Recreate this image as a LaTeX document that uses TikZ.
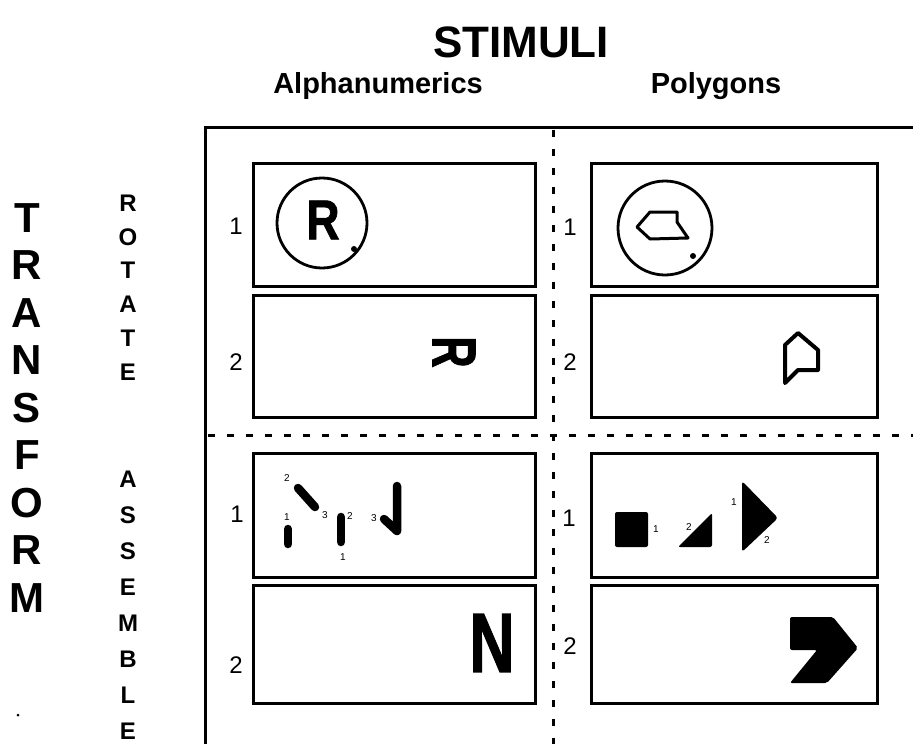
\documentclass[tikz,border=0pt]{standalone}
\usepackage{fontspec}
\setmainfont{Liberation Sans}
\newfontfamily\heavyfont[FakeBold=1.5]{Liberation Sans Bold}
\begin{document}
\begin{tikzpicture}[x=1pt,y=-1pt,
  frame/.style={line width=3pt},
  dashline/.style={line width=3pt, dash pattern=on 7pt off 12pt},
  cell/.style={draw, line width=3pt, inner sep=0pt},
  num/.style={font=\fontsize{24}{24}\selectfont, inner sep=0pt},
  tinylab/.style={font=\fontsize{10}{10}\selectfont, inner sep=0pt},
  bigletter/.style={font=\bfseries\fontsize{42}{42}\selectfont, inner sep=0pt},
  midletter/.style={font=\bfseries\fontsize{24}{24}\selectfont, inner sep=0pt},
  head/.style={font=\bfseries\fontsize{29}{29}\selectfont, inner sep=0pt},
  bar/.style={line width=8.5pt, line cap=round, line join=round},
  outline/.style={line width=4pt, line join=round},
  ring/.style={line width=2.8pt}
]
\useasboundingbox (0,0) rectangle (913,744);

% headings
\node[font=\bfseries\fontsize{44}{44}\selectfont, inner sep=0pt] (stim) at (521,42) {STIMULI};
\node[head, anchor=base] (alpha) at (378,93) {Alphanumerics};
\node[head, anchor=base] (poly) at (716,93) {Polygons};

% side labels
\foreach \l [count=\i from 0] in {T,R,A,N,S,F,O,R,M}
  \node[bigletter] (tr\i) at (27,{218+47.5*\i}) {\l};
\foreach \l [count=\i from 0] in {R,O,T,A,T,E}
  \node[midletter] (ro\i) at (128,{203+33.8*\i}) {\l};
\foreach \l [count=\i from 0] in {A,S,S,E,M,B,L,E}
  \node[midletter] (as\i) at (128,{479+36*\i}) {\l};
\fill (18,715) circle[radius=1.5pt];

% frame and dividers
\draw[frame] (913,127) -- (205,127) -- (205,744);
\draw[dashline] (553,130) -- (553,744);
\draw[dashline] (208,435) -- (913,435);

% cells
\node[cell, minimum width=282pt, minimum height=123pt] (a1) at (394,224.5) {};
\node[cell, minimum width=282pt, minimum height=122pt] (a2) at (394,356) {};
\node[cell, minimum width=282pt, minimum height=124pt] (a3) at (394,515) {};
\node[cell, minimum width=282pt, minimum height=118pt] (a4) at (394,644) {};
\node[cell, minimum width=286pt, minimum height=123pt] (p1) at (734,224.5) {};
\node[cell, minimum width=286pt, minimum height=122pt] (p2) at (734,356) {};
\node[cell, minimum width=286pt, minimum height=124pt] (p3) at (734,515) {};
\node[cell, minimum width=286pt, minimum height=118pt] (p4) at (734,644) {};

% cell numbers
\node[num] (na1) at (236,226) {1};
\node[num] (na2) at (236,362) {2};
\node[num] (na3) at (237,514) {1};
\node[num] (na4) at (236,665) {2};
\node[num] (np1) at (570,227) {1};
\node[num] (np2) at (570,362) {2};
\node[num] (np3) at (569,518) {1};
\node[num] (np4) at (570,646) {2};

% rotate, alphanumeric
\draw[ring] (322,223) circle[radius=45pt];
\node[font=\heavyfont\fontsize{56}{56}\selectfont, inner sep=0pt] (rr1) at (323,220) {\scalebox{0.82}[1]{R}};
\fill (354,249) circle[radius=3pt];
\node[font=\heavyfont\fontsize{62}{62}\selectfont, inner sep=0pt, rotate=-90] (rr2) at (454,352) {\scalebox{0.7}[1]{R}};

% rotate, polygon
\draw[ring] (665,228) circle[radius=47pt];
\draw[line width=3pt, line join=round] (637,227) -- (650,212) -- (677,212) -- (677,222) -- (688,238) -- (650,239) -- cycle;
\fill (693,256) circle[radius=3pt];
\draw[outline] (785,383) -- (785,345) -- (798,333) -- (818,350) -- (818,370) -- (798,370) -- cycle;

% assemble, alphanumeric
\draw[bar] (298,488) -- (315,507);
\draw[bar] (288,529) -- (288,544);
\draw[bar] (341,517) -- (341,542);
\draw[bar] (397,486) -- (397,531) -- (384,519);
\node[tinylab] (l1) at (287,478) {2};
\node[tinylab] (l2) at (325,515) {3};
\node[tinylab] (l3) at (287,517) {1};
\node[tinylab] (l4) at (350,516) {2};
\node[tinylab] (l5) at (343,557) {1};
\node[tinylab] (l6) at (374,518) {3};
\node[font=\heavyfont\fontsize{84}{84}\selectfont, inner sep=0pt] (nn) at (492,643) {\scalebox{0.75}[1]{N}};

% assemble, polygon
\fill[rounded corners=2pt] (615,512) rectangle (648,547);
\fill[rounded corners=2pt] (678,547) -- (712,513) -- (712,547) -- cycle;
\fill[rounded corners=3pt] (742,481) -- (778,518) -- (742,552) -- cycle;
\node[tinylab] (m1) at (656,529) {1};
\node[tinylab] (m2) at (689,527) {2};
\node[tinylab] (m3) at (734,502) {1};
\node[tinylab] (m4) at (767,540) {2};
\fill[rounded corners=2pt] (790,617) -- (833,617) -- (858,648) -- (827,683) -- (790,683) -- (817,650) -- (790,650) -- cycle;
\end{tikzpicture}
\end{document}
